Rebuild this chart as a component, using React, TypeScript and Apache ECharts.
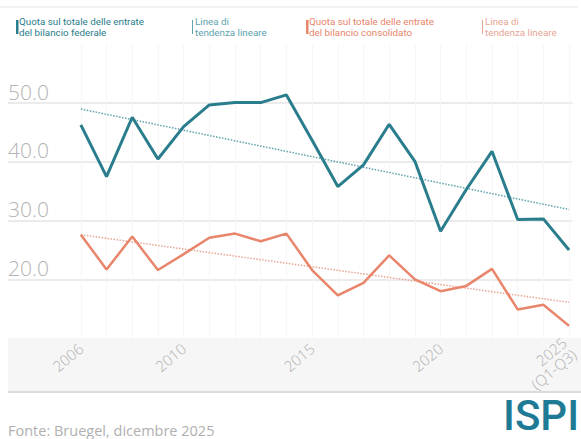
import React, { useEffect, useRef } from 'react';
import * as echarts from 'echarts';

const years = [2006, 2007, 2008, 2009, 2010, 2011, 2012, 2013, 2014, 2015, 2016, 2017, 2018, 2019, 2020, 2021, 2022, 2023, 2024, 2025];
const federal = [46.3, 37.5, 47.6, 40.5, 46.0, 49.7, 50.1, 50.1, 51.4, 43.7, 35.8, 39.5, 46.4, 40.1, 28.2, 35.3, 41.8, 30.2, 30.3, 25.0];
const consolidated = [27.6, 21.7, 27.3, 21.6, 24.3, 27.1, 27.8, 26.5, 27.8, 21.6, 17.3, 19.4, 24.1, 20.0, 18.0, 18.9, 21.8, 14.9, 15.7, 12.1];
const trendYears = [2006, 2025];
const federalTrend = [49.0, 31.9];
const consolidatedTrend = [27.6, 16.1];
const xTickYears = [2006, 2010, 2015, 2020, 2025];
const xTickLabels = ['2006', '2010', '2015', '2020', '2025\n(Q1-Q3)'];
const yTicks = [20, 30, 40, 50];
const legendTexts = [
  ['Quota sul totale delle entrate', 'del bilancio federale'],
  ['Linea di', 'tendenza lineare'],
  ['Quota sul totale delle entrate', 'del bilancio consolidato'],
  ['Linea di', 'tendenza lineare'],
];
const sourceText = 'Fonte: Bruegel, dicembre 2025';
const logoText = 'ISPI';

const TEAL = '#2a7d8c';
const TEAL_LIGHT = '#5da3ad';
const ORANGE = '#e8856b';
const ORANGE_LIGHT = '#e7a593';

export default function App() {
  const ref = useRef<HTMLDivElement>(null);
  useEffect(() => {
    if (!ref.current) return;
    const chart = echarts.init(ref.current, undefined, { renderer: 'svg' });
    const legendX = [16, 192, 306, 482];
    const legendColors = [TEAL, TEAL_LIGHT, ORANGE, ORANGE_LIGHT];
    const legendBarW = [2.5, 1, 2.5, 1];
    const legendEls: any[] = [];
    legendTexts.forEach((lines, i) => {
      legendEls.push({
        type: 'rect',
        shape: { x: legendX[i], y: 20, width: legendBarW[i], height: 14 },
        style: { fill: legendColors[i] },
      });
      lines.forEach((t, j) => {
        legendEls.push({
          type: 'text',
          x: legendX[i] + 3,
          y: 21 + j * 11.6,
          style: {
            text: t,
            fill: legendColors[i],
            font: '9.8px Roboto',
            verticalAlign: 'middle',
          },
        });
      });
    });
    chart.setOption({
      animation: false,
      backgroundColor: '#ffffff',
      grid: { left: 8, right: 0, top: 44.4, bottom: 100.8 },
      xAxis: {
        type: 'value',
        min: 2003.165,
        max: 2025.12,
        axisLine: { show: false },
        axisTick: { show: false, customValues: years },
        splitLine: { show: true, lineStyle: { color: '#f6f6f6', width: 1 } },
        axisLabel: {
          customValues: xTickYears,
          formatter: (v: number) => xTickLabels[xTickYears.indexOf(v)] ?? '',
          rotate: 40,
          margin: 8,
          color: '#b0b0b0',
          fontSize: 15,
          fontFamily: 'Open Sans',
          fontWeight: 300,
          lineHeight: 15,
        },
      },
      yAxis: {
        type: 'value',
        min: 10,
        max: 60,
        interval: 10,
        axisLine: { show: false },
        axisTick: { show: false },
        splitLine: {
          show: true,
          showMinLine: false,
          showMaxLine: false,
          lineStyle: { color: '#e4e4e4', width: 1.5 },
        },
        axisLabel: {
          inside: true,
          margin: 0,
          customValues: yTicks,
          formatter: (v: number) => v.toFixed(1),
          verticalAlign: 'bottom',
          color: '#b3b3b3',
          fontSize: 21,
          fontFamily: 'Open Sans',
          fontWeight: 300,
          padding: [0, 0, 1, 0],
        },
      },
      series: [
        {
          type: 'line',
          data: trendYears.map((y, i) => [y, federalTrend[i]]),
          symbol: 'none',
          lineStyle: { color: TEAL_LIGHT, width: 1.5, type: 'dotted' },
          z: 2,
        },
        {
          type: 'line',
          data: trendYears.map((y, i) => [y, consolidatedTrend[i]]),
          symbol: 'none',
          lineStyle: { color: ORANGE_LIGHT, width: 1.5, type: 'dotted' },
          z: 2,
        },
        {
          type: 'line',
          data: years.map((y, i) => [y, federal[i]]),
          symbol: 'none',
          lineStyle: { color: TEAL, width: 3 },
          z: 3,
        },
        {
          type: 'line',
          data: years.map((y, i) => [y, consolidated[i]]),
          symbol: 'none',
          lineStyle: { color: ORANGE, width: 2.5 },
          z: 3,
        },
      ],
      graphic: [
        {
          type: 'group',
          z: -1,
          children: [
            { type: 'rect', shape: { x: 8, y: 338, width: 573, height: 54 }, style: { fill: '#f6f6f6' } },
            { type: 'line', shape: { x1: 8, y1: 392, x2: 581, y2: 392 }, style: { stroke: '#dcdcdc', lineWidth: 2 } },
          ],
        },
        {
          type: 'group',
          children: [
            { type: 'line', shape: { x1: 0, y1: 7, x2: 578, y2: 7 }, style: { stroke: '#ececec', lineWidth: 1.5 } },
            ...legendEls,
            {
              type: 'text',
              x: 8,
              y: 430,
              style: { text: sourceText, fill: '#b0b0b0', font: '14.5px "Open Sans"', verticalAlign: 'middle' },
            },
            {
              type: 'text',
              x: 503,
              y: 436,
              style: { text: logoText, fill: '#1f7b95', font: '500 42px Roboto', verticalAlign: 'bottom' },
            },
          ],
        },
      ],
    });
    return () => chart.dispose();
  }, []);
  return <div ref={ref} style={{ position: 'absolute', left: 0, top: 0, width: 581, height: 439 }} />;
}
